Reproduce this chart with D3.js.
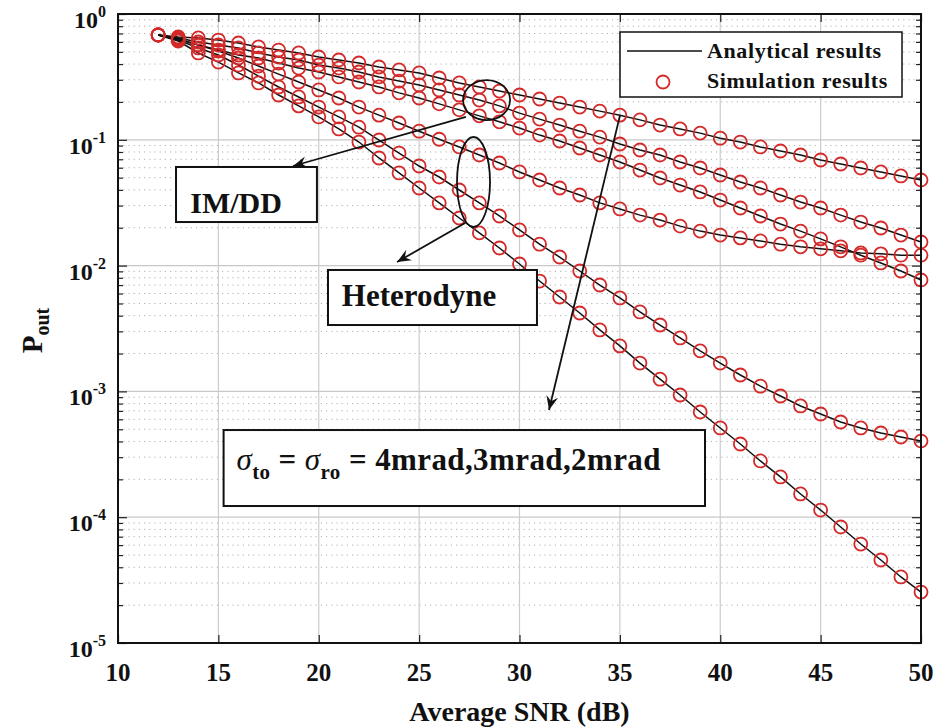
<!DOCTYPE html>
<html>
<head>
<meta charset="utf-8">
<script src="https://cdn.jsdelivr.net/npm/d3@7"></script>
<style>
  body { margin: 0; background: #fff; }
  text { font-family: "Liberation Serif", "Times New Roman", serif; font-weight: bold; fill: #111; }
</style>
</head>
<body>
<div id="chart"></div>
<script>
// values (outage probability vs average SNR)
var snrDb = [12,13,14,15,16,17,18,19,20,21,22,23,24,25,26,27,28,29,30,31,32,33,34,35,36,37,38,39,40,41,42,43,44,45,46,47,48,49,50];

var imdd4 = [0.681,0.657,0.645,0.621,0.588,0.547,0.517,0.490,0.455,0.431,0.408,0.379,0.359,0.340,0.310,0.283,0.263,0.244,0.227,0.211,
             0.196,0.182,0.169,0.157,0.144,0.131,0.122,0.113,0.103,0.0960,0.0877,0.0815,0.0757,0.0691,0.0642,0.0597,0.0555,0.0516,0.0479];
var imdd3 = [0.681,0.645,0.599,0.567,0.537,0.490,0.455,0.431,0.393,0.372,0.346,0.316,0.293,0.273,0.249,0.227,0.207,0.186,0.163,0.146,
             0.131,0.117,0.105,0.0926,0.0830,0.0757,0.0666,0.0597,0.0525,0.0462,0.0414,0.0364,0.0320,0.0287,0.0252,0.0222,0.0199,0.0175,0.0154];
var imdd2 = [0.681,0.633,0.567,0.517,0.472,0.447,0.408,0.372,0.346,0.316,0.288,0.263,0.236,0.215,0.193,0.173,0.155,0.139,0.124,0.109,
             0.0978,0.0861,0.0757,0.0666,0.0575,0.0497,0.0437,0.0385,0.0332,0.0287,0.0248,0.0214,0.0188,0.0163,0.0141,0.0121,0.0105,0.00906,0.00768];
var het4 = [0.681,0.633,0.567,0.508,0.447,0.386,0.333,0.288,0.249,0.215,0.182,0.157,0.136,0.117,0.101,0.0877,0.0757,0.0654,0.0555,0.0479,
            0.0414,0.0364,0.0315,0.0282,0.0252,0.0230,0.0206,0.0188,0.0175,0.0166,0.0157,0.0148,0.0141,0.0136,0.0131,0.0126,0.0124,0.0121,0.0121];
var het3 = [0.681,0.621,0.537,0.472,0.393,0.321,0.263,0.219,0.182,0.152,0.126,0.0996,0.0785,0.0619,0.0506,0.0399,0.0315,0.0248,0.0192,0.0148,
            0.0117,0.00906,0.00701,0.00553,0.00428,0.00337,0.00266,0.00210,0.00168,0.00135,0.00110,9.19e-4,7.66e-4,6.61e-4,5.71e-4,5.12e-4,4.67e-4,4.34e-4,4.03e-4];
var het2 = [0.681,0.610,0.490,0.415,0.340,0.283,0.227,0.186,0.152,0.122,0.0960,0.0717,0.0545,0.0414,0.0315,0.0239,0.0182,0.0138,0.0103,0.00754,
            0.00563,0.00420,0.00308,0.00230,0.00168,0.00125,9.36e-4,6.86e-4,5.12e-4,3.82e-4,2.80e-4,2.09e-4,1.53e-4,1.14e-4,8.36e-5,6.12e-5,4.57e-5,3.35e-5,2.54e-5];

var xTicks = [10,15,20,25,30,35,40,45,50];
var yExponents = [0,-1,-2,-3,-4,-5];

// set the dimensions and margins of the graph
var margin = {top: 14, right: 20, bottom: 85, left: 118},
    width = 941 - margin.left - margin.right,
    height = 728 - margin.top - margin.bottom;

var root = d3.select("#chart")
  .append("svg")
    .attr("width", 941)
    .attr("height", 728);

var svg = root.append("g")
    .attr("transform", "translate(" + margin.left + "," + margin.top + ")");

var x = d3.scaleLinear().domain([10, 50]).range([0, width]);
var y = d3.scaleLog().domain([1e-5, 1]).range([height, 0]);

// minor positions of the log axis (2..9 in each decade)
var minorVals = [];
for (var e = -5; e < 0; e++) {
  for (var k = 2; k <= 9; k++) minorVals.push(k * Math.pow(10, e));
}
var majorVals = yExponents.map(function(p) { return Math.pow(10, p); });

// grid
svg.selectAll(".minor-grid").data(minorVals).enter().append("line")
    .attr("x1", 0).attr("x2", width)
    .attr("y1", function(d) { return y(d); }).attr("y2", function(d) { return y(d); })
    .style("stroke", "#b0b0b0").style("stroke-width", 1).style("stroke-dasharray", "1.2,4");
svg.selectAll(".major-hgrid").data(majorVals.slice(1, 5)).enter().append("line")
    .attr("x1", 0).attr("x2", width)
    .attr("y1", function(d) { return y(d); }).attr("y2", function(d) { return y(d); })
    .style("stroke", "#c8c8c8").style("stroke-width", 1.2);
svg.selectAll(".major-vgrid").data(xTicks.slice(1, xTicks.length - 1)).enter().append("line")
    .attr("y1", 0).attr("y2", height)
    .attr("x1", function(d) { return x(d); }).attr("x2", function(d) { return x(d); })
    .style("stroke", "#cccccc").style("stroke-width", 1.2);

// ticks on all four sides, pointing inward
svg.append("g").attr("transform", "translate(0," + height + ")")
  .call(d3.axisTop(x).tickValues(xTicks).tickSize(8).tickFormat(""));
svg.append("g")
  .call(d3.axisBottom(x).tickValues(xTicks).tickSize(8).tickFormat(""));
svg.append("g")
  .call(d3.axisRight(y).tickValues(majorVals).tickSize(9).tickFormat(""));
svg.append("g")
  .call(d3.axisRight(y).tickValues(minorVals).tickSize(5).tickFormat(""));
svg.append("g").attr("transform", "translate(" + width + ",0)")
  .call(d3.axisLeft(y).tickValues(majorVals).tickSize(9).tickFormat(""));
svg.append("g").attr("transform", "translate(" + width + ",0)")
  .call(d3.axisLeft(y).tickValues(minorVals).tickSize(5).tickFormat(""));
svg.selectAll(".domain").remove();
svg.selectAll(".tick line").style("stroke", "#222").style("stroke-width", 1.2);

// x tick labels
svg.selectAll(".xlab").data(xTicks).enter().append("text")
    .attr("x", function(d) { return x(d); })
    .attr("y", height + 38)
    .style("text-anchor", "middle")
    .style("font-size", "25px")
    .text(function(d) { return d; });

// y tick labels 10^n
var ylab = svg.selectAll(".ylab").data(yExponents).enter().append("text")
    .attr("x", -12)
    .attr("y", function(d) { return y(Math.pow(10, d)) + 14; })
    .style("text-anchor", "end")
    .style("font-size", "24px");
ylab.append("tspan").text("10");
ylab.append("tspan").attr("dy", -11).style("font-size", "16px")
    .text(function(d) { return d === 0 ? "0" : "-" + Math.abs(d); });

// axis titles
svg.append("text")
    .attr("x", width / 2)
    .attr("y", height + 78)
    .style("text-anchor", "middle")
    .style("font-size", "28px")
    .text("Average SNR (dB)");

var ytitle = root.append("text")
    .attr("transform", "translate(42," + (margin.top + height / 2 + 2) + ") rotate(-90)")
    .style("text-anchor", "middle")
    .style("font-size", "29px");
ytitle.append("tspan").text("P");
ytitle.append("tspan").attr("dy", 7).style("font-size", "20px").text("out");

// series
var allSeries = [
  {name: "IM/DD 4mrad", values: imdd4},
  {name: "IM/DD 3mrad", values: imdd3},
  {name: "IM/DD 2mrad", values: imdd2},
  {name: "Heterodyne 4mrad", values: het4},
  {name: "Heterodyne 3mrad", values: het3},
  {name: "Heterodyne 2mrad", values: het2}
];
var dataReady = allSeries.map(function(s) {
  return {name: s.name, values: snrDb.map(function(v, i) { return {snr: v, p: s.values[i]}; })};
});

var line = d3.line()
  .x(function(d) { return x(d.snr); })
  .y(function(d) { return y(d.p); });

svg.selectAll("myLines").data(dataReady).enter().append("path")
    .attr("d", function(d) { return line(d.values); })
    .style("fill", "none").style("stroke", "#111").style("stroke-width", 1.5);

svg.selectAll("myDots").data(dataReady).enter().append("g")
  .selectAll("myPoints").data(function(d) { return d.values; }).enter()
  .append("circle")
    .attr("cx", function(d) { return x(d.snr); })
    .attr("cy", function(d) { return y(d.p); })
    .attr("r", 6.5)
    .style("fill", "none").style("stroke", "#d42a2a").style("stroke-width", 1.8);

// axes box
svg.append("rect").attr("width", width).attr("height", height)
    .style("fill", "none").style("stroke", "#111").style("stroke-width", 2);

// annotations (placed in data coordinates)
root.append("defs").append("marker")
    .attr("id", "head").attr("viewBox", "-14 -7 16 14")
    .attr("markerWidth", 16).attr("markerHeight", 14)
    .attr("markerUnits", "userSpaceOnUse").attr("orient", "auto")
  .append("path").attr("d", "M0,0 L-14,-6 L-9,0 L-14,6 Z").style("fill", "#111");

function arrow(x0, y0, x1, y1) {
  svg.append("line")
      .attr("x1", x(x0)).attr("y1", y(y0)).attr("x2", x(x1)).attr("y2", y(y1))
      .style("stroke", "#111").style("stroke-width", 1.8)
      .attr("marker-end", "url(#head)");
}
function ellipse(cx, cy, rx, ry) {
  svg.append("ellipse").attr("cx", x(cx)).attr("cy", y(cy)).attr("rx", rx).attr("ry", ry)
      .style("fill", "none").style("stroke", "#111").style("stroke-width", 1.8);
}
function box(x0, y0, x1, y1) {
  svg.append("rect")
      .attr("x", x(x0)).attr("y", y(y0)).attr("width", x(x1) - x(x0)).attr("height", y(y1) - y(y0))
      .style("fill", "#fff").style("stroke", "#111").style("stroke-width", 2);
}

ellipse(28.36, 0.207, 23.5, 20);
ellipse(27.71, 0.0462, 16.5, 45);
arrow(27.33, 0.152, 18.72, 0.0619);
arrow(27.29, 0.0218, 23.9, 0.01068);
arrow(35.0, 0.155, 31.47, 7.11e-4);

box(12.89, 0.0608, 19.91, 0.0222);
svg.append("text").attr("x", x(13.6)).attr("y", y(0.0263))
    .style("font-size", "30px").text("IM/DD");

box(20.46, 0.00923, 30.87, 0.00337);
svg.append("text").attr("x", x(21.15)).attr("y", y(0.00477))
    .style("font-size", "31px").text("Heterodyne");

box(15.26, 4.93e-4, 39.24, 1.227e-4);
var sig = svg.append("text").attr("x", x(15.9)).attr("y", y(2.38e-4))
    .style("font-size", "31px").style("letter-spacing", "0.4px");
sig.append("tspan").style("font-style", "italic").style("font-weight", "normal").text("\u03c3");
sig.append("tspan").attr("dy", 9).style("font-size", "21px").text("to");
sig.append("tspan").attr("dy", -9).text(" = ");
sig.append("tspan").style("font-style", "italic").style("font-weight", "normal").text("\u03c3");
sig.append("tspan").attr("dy", 9).style("font-size", "21px").text("ro");
sig.append("tspan").attr("dy", -9).text(" = 4mrad,3mrad,2mrad");

// legend
var lg = root.append("g").attr("transform", "translate(620,32)");
lg.append("rect").attr("width", 282).attr("height", 65)
    .style("fill", "#fff").style("stroke", "#111").style("stroke-width", 1.5);
lg.append("line").attr("x1", 7).attr("x2", 82).attr("y1", 19).attr("y2", 19)
    .style("stroke", "#111").style("stroke-width", 1.5);
lg.append("circle").attr("cx", 43).attr("cy", 50).attr("r", 6.5)
    .style("fill", "none").style("stroke", "#d42a2a").style("stroke-width", 1.8);
lg.append("text").attr("x", 87).attr("y", 26).style("font-size", "22px")
    .style("letter-spacing", "0.6px").text("Analytical results");
lg.append("text").attr("x", 87).attr("y", 56).style("font-size", "22px")
    .style("letter-spacing", "0.6px").text("Simulation results");
</script>
</body>
</html>
